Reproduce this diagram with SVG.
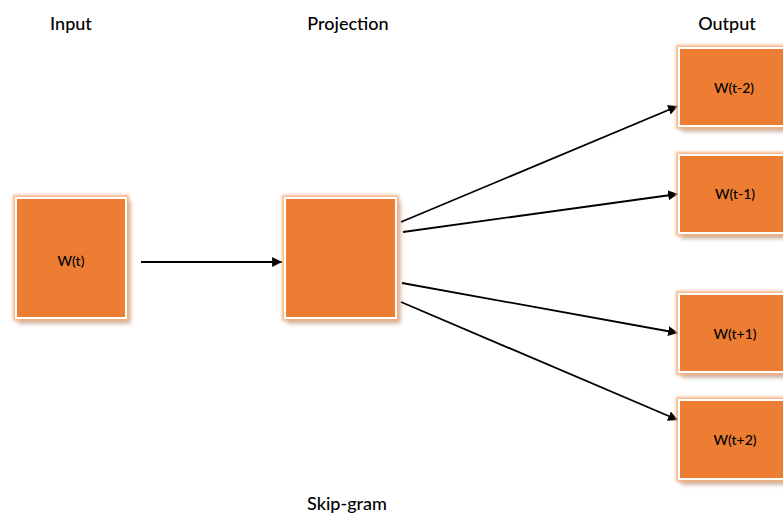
<svg xmlns="http://www.w3.org/2000/svg" width="783" height="514" viewBox="0 0 783 514">
<style>
.box{fill:#ED7D31;stroke:#fff;stroke-width:2;filter:url(#glow)}
.lbl{font-family:Lato,"Open Sans",sans-serif;font-size:14px;font-weight:500;fill:#000;text-anchor:middle}
.ttl{font-family:Lato,"Open Sans",sans-serif;font-size:18px;font-weight:500;fill:#000;text-anchor:middle}
.conn{stroke:#000;stroke-width:1.8;fill:none;marker-end:url(#ah)}
</style>
<defs>
<filter id="glow" x="-20%" y="-20%" width="140%" height="140%">
<feMorphology in="SourceAlpha" operator="dilate" radius="2" result="d"/>
<feGaussianBlur in="d" stdDeviation="1.5" result="b"/>
<feFlood flood-color="#F4B183" result="c"/>
<feComposite in="c" in2="b" operator="in" result="g"/>
<feDropShadow in="SourceAlpha" dx="3" dy="4" stdDeviation="2" flood-color="#7a3e10" flood-opacity="0.55" result="s"/>
<feMerge><feMergeNode in="s"/><feMergeNode in="g"/><feMergeNode in="SourceGraphic"/></feMerge>
</filter>
<marker id="ah" viewBox="0 0 10 10" refX="10" refY="5" markerWidth="5.5" markerHeight="5.5" orient="auto" markerUnits="strokeWidth">
<path d="M0,0 L10,5 L0,10 z" fill="#000"/>
</marker>
</defs>
<rect width="783" height="514" fill="#fff"/>
<text class="ttl" x="71" y="30">Input</text>
<text class="ttl" x="348" y="30">Projection</text>
<text class="ttl" x="727" y="30">Output</text>
<text class="ttl" x="347" y="510">Skip-gram</text>
<g id="connectors">
<line class="conn" x1="141" y1="262" x2="282" y2="262"/>
<line class="conn" x1="401" y1="222" x2="678" y2="106"/>
<line class="conn" x1="403" y1="232" x2="678" y2="194"/>
<line class="conn" x1="402" y1="283" x2="678" y2="333"/>
<line class="conn" x1="401" y1="302" x2="678" y2="420"/>
</g>
<g id="input"><rect class="box" x="16" y="198" width="110" height="120"/><text class="lbl" x="71" y="266">W(t)</text></g>
<g id="projection"><rect class="box" x="285" y="198" width="111" height="120"/></g>
<g id="out-t-2"><rect class="box" x="679" y="48" width="115" height="78"/><text class="lbl" x="734" y="93">W(t-2)</text></g>
<g id="out-t-1"><rect class="box" x="679" y="155" width="115" height="78"/><text class="lbl" x="735" y="199">W(t-1)</text></g>
<g id="out-t+1"><rect class="box" x="679" y="294" width="115" height="78"/><text class="lbl" x="735" y="339">W(t+1)</text></g>
<g id="out-t+2"><rect class="box" x="679" y="400" width="115" height="79"/><text class="lbl" x="735" y="445">W(t+2)</text></g>
</svg>
